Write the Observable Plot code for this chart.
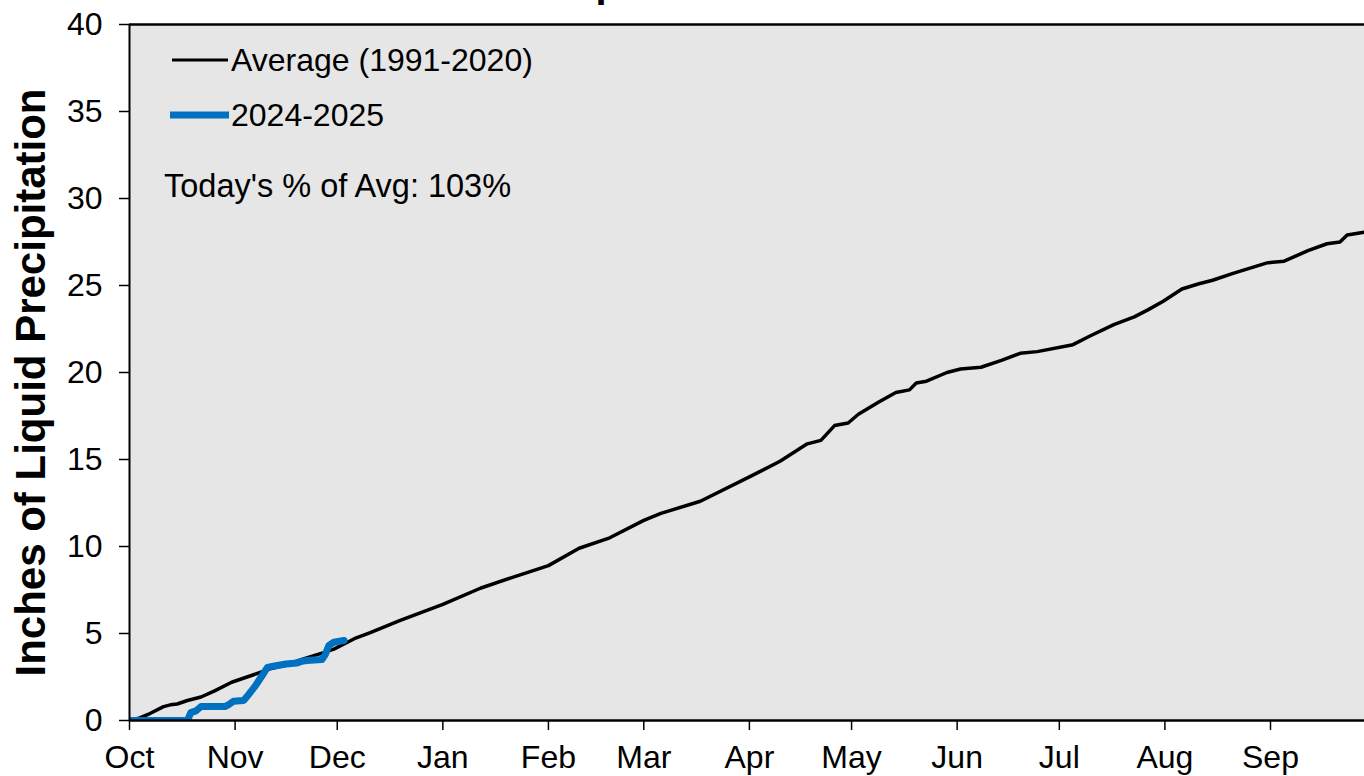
<!DOCTYPE html>
<html>
<head>
<meta charset="utf-8">
<script src="https://cdn.jsdelivr.net/npm/d3@7"></script>
<script src="https://cdn.jsdelivr.net/npm/@observablehq/plot@0.6"></script>
<style>
  html, body { margin: 0; padding: 0; background: #fff; overflow: hidden; }
  #wrap { position: relative; width: 1364px; height: 776px; font-family: "Liberation Sans", Arial, sans-serif; }
  #overlay { position: absolute; left: 0; top: 0; pointer-events: none; }
</style>
</head>
<body>
<div id="wrap"></div>
<script>
// ---- data (day index counted from Oct 1) ----
const monthNames = ["Oct","Nov","Dec","Jan","Feb","Mar","Apr","May","Jun","Jul","Aug","Sep"];
const monthDays  = [0, 31, 61, 92, 123, 151, 182, 212, 243, 273, 304, 335];
const yTicks = [0, 5, 10, 15, 20, 25, 30, 35, 40];

const avgDays = [0, 3, 6, 10, 12, 14, 17, 21, 25, 30, 36, 41, 45, 52, 57, 60, 63, 66, 70.7, 79.5, 92, 103, 112, 123, 132, 141, 151, 156, 167.6, 182, 191, 199, 203, 207, 211, 214, 220, 225, 229, 231, 234, 240, 244, 250, 256, 261.5, 266.5, 277, 282, 289, 295, 299, 303.5, 309, 314, 318, 324, 329, 334, 339, 346, 351.6, 355.4, 357.5, 362, 365];
const avgValues = [0, 0.15, 0.4, 0.8, 0.9, 0.95, 1.15, 1.35, 1.7, 2.2, 2.6, 2.95, 3.15, 3.6, 3.9, 4.1, 4.4, 4.7, 5.05, 5.75, 6.67, 7.6, 8.2, 8.9, 9.9, 10.5, 11.5, 11.9, 12.6, 14.0, 14.9, 15.9, 16.1, 16.95, 17.1, 17.6, 18.3, 18.85, 19.0, 19.4, 19.5, 20.0, 20.2, 20.3, 20.7, 21.1, 21.2, 21.6, 22.1, 22.75, 23.2, 23.6, 24.1, 24.8, 25.1, 25.3, 25.7, 26.0, 26.3, 26.4, 27.0, 27.4, 27.5, 27.9, 28.05, 28.15];

const wyDays = [0, 17, 18, 19.5, 21, 28, 29, 30.5, 33.5, 35, 37, 39, 40.5, 43, 46, 49, 50.5, 52, 56.5, 57.5, 58.5, 60, 63];
const wyValues = [0, 0, 0.45, 0.55, 0.8, 0.8, 0.9, 1.1, 1.15, 1.5, 2.0, 2.6, 3.05, 3.15, 3.25, 3.3, 3.4, 3.45, 3.5, 3.8, 4.3, 4.5, 4.6];

const yLabel = "Inches of Liquid Precipitation";
const legendAvg = "Average (1991-2020)";
const legendCur = "2024-2025";
const pctText = "Today's % of Avg: 103%";
const titleText = "Water Year Precipitation";

const avg = avgDays.map((d, i) => ({day: d, value: avgValues[i]}));
const wy = wyDays.map((d, i) => ({day: d, value: wyValues[i]}));

const font = "Liberation Sans, Arial, sans-serif";

const chart = Plot.plot({
  width: 1364,
  height: 776,
  marginLeft: 129,
  marginRight: 0,
  marginTop: 24,
  marginBottom: 56,
  style: {fontFamily: font, fontSize: "32px", color: "#000", background: "transparent", overflow: "visible"},
  x: {domain: [0, 362.6]},
  y: {domain: [0, 40]},
  marks: [
    Plot.frame({fill: "#e6e6e6", stroke: "none"}),
    Plot.ruleY([40], {stroke: "#000", strokeWidth: 2.5}),
    Plot.line(avg, {x: "day", y: "value", stroke: "#000", strokeWidth: 3.5, strokeLinejoin: "round", clip: true}),
    Plot.line(wy, {x: "day", y: "value", stroke: "#0070c0", strokeWidth: 7, strokeLinejoin: "round", clip: true}),
    Plot.ruleX([0], {stroke: "#000", strokeWidth: 2}),
    Plot.ruleY([0], {stroke: "#000", strokeWidth: 2.5}),
    Plot.axisY({ticks: yTicks, tickSize: 10, tickPadding: 17, label: null, fontSize: 32, strokeWidth: 1.5}),
    Plot.axisX({ticks: monthDays, tickFormat: d => monthNames[monthDays.indexOf(d)], tickSize: 10, tickPadding: 15, label: null, fontSize: 32, strokeWidth: 1.5}),
    Plot.text([yLabel], {frameAnchor: "left", textAnchor: "middle", rotate: -90, dx: -98, dy: 10, fontSize: 42, fontWeight: "bold", letterSpacing: 1.3})
  ]
});

const wrap = document.getElementById("wrap");
wrap.appendChild(chart);

// legend + (cropped) title overlay
const ns = "http://www.w3.org/2000/svg";
const ov = document.createElementNS(ns, "svg");
ov.setAttribute("id", "overlay");
ov.setAttribute("width", 1364);
ov.setAttribute("height", 776);
ov.setAttribute("font-family", font);
function line(x1, x2, y, color, w) {
  const l = document.createElementNS(ns, "line");
  l.setAttribute("x1", x1); l.setAttribute("x2", x2);
  l.setAttribute("y1", y); l.setAttribute("y2", y);
  l.setAttribute("stroke", color); l.setAttribute("stroke-width", w);
  ov.appendChild(l);
}
function text(str, x, y, size, weight) {
  const t = document.createElementNS(ns, "text");
  t.setAttribute("x", x); t.setAttribute("y", y);
  t.setAttribute("font-size", size);
  if (weight) t.setAttribute("font-weight", weight);
  t.setAttribute("fill", "#000");
  t.textContent = str;
  ov.appendChild(t);
  return t;
}
line(172, 228, 60, "#000", 3);
text(legendAvg, 231, 71, 32);
line(170, 229, 115, "#0070c0", 7);
text(legendCur, 231, 126, 32);
text(pctText, 164, 197, 32.5);
text(titleText, 282, -3.5, 40, "bold");
wrap.appendChild(ov);
</script>
</body>
</html>
